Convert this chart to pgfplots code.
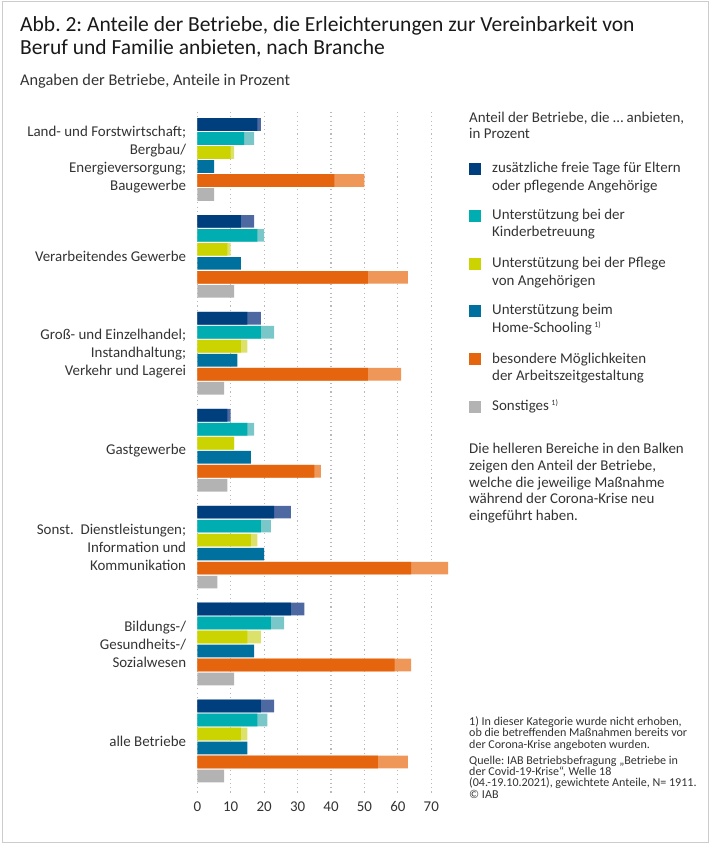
\documentclass[border=0pt]{standalone}
\usepackage{pgfplots}
\pgfplotsset{compat=1.18}
\usepackage{pgfplotstable}
\usepackage{fontspec}
\setmainfont{Carlito}
\frenchspacing

\definecolor{txt}{HTML}{333333}
\definecolor{frame}{HTML}{CCCCCC}
\definecolor{cA}{HTML}{003F7D}
\definecolor{cAl}{HTML}{4E69A2}
\definecolor{cB}{HTML}{00ADB1}
\definecolor{cBl}{HTML}{79C7C9}
\definecolor{cC}{HTML}{CBD400}
\definecolor{cCl}{HTML}{DCE16B}
\definecolor{cD}{HTML}{00719E}
\definecolor{cE}{HTML}{E5640E}
\definecolor{cEl}{HTML}{EE9759}
\definecolor{cF}{HTML}{B3B3B3}

% g = Branche; b = vor der Krise, t = insgesamt (inkl. neu eingefuehrt)
\pgfplotstableread{
g  Ab At  Bb Bt  Cb Ct  D   Eb Et  F
0  18 19  14 17  10 11  5   41 50  5
1  13 17  18 20  9  10  13  51 63  11
2  15 19  19 23  13 15  12  51 61  8
3  9  10  15 17  11 11  16  35 37  9
4  23 28  19 22  16 18  20  64 75  6
5  28 32  22 26  15 19  17  59 64  11
6  19 23  18 21  13 15  15  54 63  8
}\branchen

\newcommand{\bodyfont}{\fontsize{15}{18}\selectfont}
\newcommand{\smallfont}{\fontsize{12.1}{11.7}\selectfont}
\newcommand{\fn}{\textsuperscript{\fontsize{8}{8}\selectfont 1)}}

\begin{document}
\begin{tikzpicture}[x=1bp,y=1bp,color=txt]
\path[use as bounding box] (0,0) rectangle (711,847);
\draw[frame, line width=1bp] (2.5,4) rectangle (708.5,845.5);

\begin{axis}[
  at={(197.3bp,54bp)}, anchor=south west,
  scale only axis, width=250.7bp, height=681bp,
  xmin=0, xmax=75, ymin=112, ymax=793, y dir=reverse,
  axis line style={draw=none}, major tick length=0pt,
  xtick={0,10,...,70},
  xmajorgrids, grid style={gray!55, line width=1.1bp, dash pattern=on 1.1bp off 3.2bp},
  xticklabel style={font=\bodyfont, anchor=base, yshift=-18.7bp},
  /pgf/number format/assume math mode=true,
  ytick={159.5,256.4,353.3,450.2,547.1,644.0,740.9},
  yticklabels={
    {Land- und Forstwirtschaft;\\Bergbau/\\Energieversorgung;\\Baugewerbe},
    {Verarbeitendes Gewerbe},
    {Groß- und Einzelhandel;\\Instandhaltung;\\Verkehr und Lagerei},
    {Gastgewerbe},
    {Sonst.\ \ Dienstleistungen;\\Information und\\Kommunikation},
    {Bildungs-/\\Gesundheits-/\\Sozialwesen},
    {alle Betriebe}},
  yticklabel style={font=\bodyfont, align=right, inner sep=0pt, xshift=-11bp, text=txt},
  every x tick label/.append style={text=txt},
  every axis plot/.append style={xbar, bar width=12.7, bar shift=0pt, draw=none},
]
\addplot[fill=cAl] table[x=At, y expr=124.5+96.9*\thisrow{g}] {\branchen};
\addplot[fill=cA]  table[x=Ab, y expr=124.5+96.9*\thisrow{g}] {\branchen};
\addplot[fill=cBl] table[x=Bt, y expr=138.5+96.9*\thisrow{g}] {\branchen};
\addplot[fill=cB]  table[x=Bb, y expr=138.5+96.9*\thisrow{g}] {\branchen};
\addplot[fill=cCl] table[x=Ct, y expr=152.5+96.9*\thisrow{g}] {\branchen};
\addplot[fill=cC]  table[x=Cb, y expr=152.5+96.9*\thisrow{g}] {\branchen};
\addplot[fill=cD]  table[x=D,  y expr=166.5+96.9*\thisrow{g}] {\branchen};
\addplot[fill=cEl] table[x=Et, y expr=180.5+96.9*\thisrow{g}] {\branchen};
\addplot[fill=cE]  table[x=Eb, y expr=180.5+96.9*\thisrow{g}] {\branchen};
\addplot[fill=cF]  table[x=F,  y expr=194.5+96.9*\thisrow{g}] {\branchen};
\end{axis}

\begin{scope}[yshift=847bp, y=-1bp]
  % Titel
  \node[anchor=base west, inner sep=0pt, font=\fontsize{21.6}{23}\selectfont, text=black!90] at (20,31.5) {Abb. 2: Anteile der Betriebe, die Erleichterungen zur Vereinbarkeit von};
  \node[anchor=base west, inner sep=0pt, font=\fontsize{21.6}{23}\selectfont, text=black!90] at (20,54.5) {Beruf und Familie anbieten, nach Branche};
  \node[anchor=base west, inner sep=0pt, font=\fontsize{16.4}{18}\selectfont] at (20,86) {Angaben der Betriebe, Anteile in Prozent};

  % Legende
  \begin{scope}[every node/.style={anchor=base west, font=\bodyfont, inner sep=0pt}]
    \node at (469,122.3) {Anteil der Betriebe, die \dots\ anbieten,};
    \node at (469,138.3) {in Prozent};
    \fill[cA]  (468.5,162.7) rectangle (480.5,174.7);
    \fill[cB]  (468.5,210.3) rectangle (480.5,222.3);
    \fill[cC]  (468.5,257.9) rectangle (480.5,269.9);
    \fill[cD]  (468.5,305.5) rectangle (480.5,317.5);
    \fill[cE]  (468.5,353.1) rectangle (480.5,365.1);
    \fill[cF]  (468.5,400.7) rectangle (480.5,412.7);
    \node at (492,173)   {zusätzliche freie Tage für Eltern};
    \node at (492,190.7) {oder pflegende Angehörige};
    \node at (492,219.7) {Unterstützung bei der};
    \node at (492,236.3) {Kinderbetreuung};
    \node at (492,268)   {Unterstützung bei der Pflege};
    \node at (492,285.7) {von Angehörigen};
    \node at (492,315)   {Unterstützung beim};
    \node at (492,332.3) {Home-Schooling\,\fn};
    \node at (492,363.3) {besondere Möglichkeiten};
    \node at (492,380.7) {der Arbeitszeitgestaltung};
    \node at (492,410.7) {Sonstiges\,\fn};

    \node at (469,454)   {Die helleren Bereiche in den Balken};
    \node at (469,470.7) {zeigen den Anteil der Betriebe,};
    \node at (469,487.3) {welche die jeweilige Maßnahme};
    \node at (469,504)   {während der Corona-Krise neu};
    \node at (469,520.7) {eingeführt haben.};
  \end{scope}

  % Fussnote und Quelle
  \begin{scope}[every node/.style={anchor=base west, font=\smallfont, inner sep=0pt}]
    \node at (469,725.2) {1) In dieser Kategorie wurde nicht erhoben,};
    \node at (469,736.8) {ob die betreffenden Maßnahmen bereits vor};
    \node at (469,748.5) {der Corona-Krise angeboten wurden.};
    \node at (469,764.2) {Quelle: IAB Betriebsbefragung „Betriebe in};
    \node at (469,775.2) {der Covid-19-Krise“, Welle 18};
    \node at (469,786.8) {(04.-19.10.2021), gewichtete Anteile, N= 1911.};
    \node at (469,798.5) {© IAB};
  \end{scope}
\end{scope}
\end{tikzpicture}
\end{document}
